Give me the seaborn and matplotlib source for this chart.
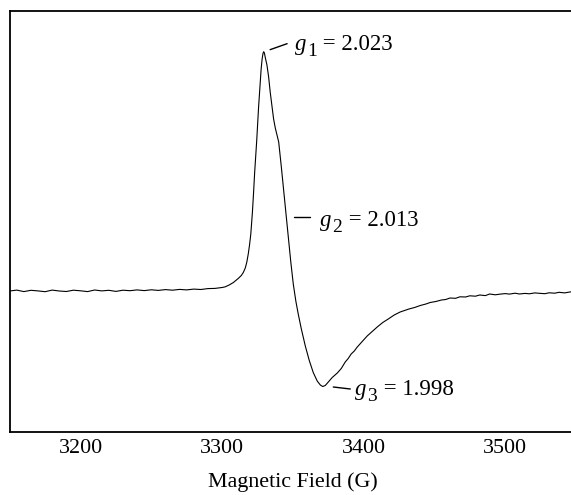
import numpy as np
import pandas as pd
import matplotlib
matplotlib.use("Agg")
import matplotlib.pyplot as plt
from matplotlib.lines import Line2D
from matplotlib.transforms import IdentityTransform
import seaborn as sns

# ---- data ----
field = [3150, 3155, 3160, 3165, 3170, 3175, 3180, 3185, 3190, 3195,
         3200, 3205, 3210, 3215, 3220, 3225, 3230, 3235, 3240, 3245,
         3250, 3255, 3260, 3265, 3270, 3275, 3280, 3285, 3290, 3295,
         3300, 3302.3, 3305, 3308, 3311.4, 3313.6, 3315, 3316.4, 3317.5, 3318.5,
         3319.4, 3320.3, 3321.4, 3322.2, 3323, 3324.5, 3325.8, 3326.8, 3327.6, 3328.3,
         3328.9, 3329.4, 3329.9, 3330.6, 3331.7, 3332.9, 3334, 3335.3, 3336.4, 3337.6,
         3338.8, 3340, 3341.8, 3343.5, 3345.3, 3347, 3348.55, 3350.3, 3352.1, 3353.8,
         3356.0, 3358.8, 3361.6, 3364.4, 3367.2, 3369.4, 3371.1, 3372.9, 3375.0, 3377.8,
         3381.4, 3384.2, 3387.0, 3389.1, 3391.2, 3393.4, 3395.5, 3399.0, 3402.5, 3406.0,
         3409.6, 3413.5, 3417.4, 3421.6, 3425.8, 3429, 3432, 3436, 3440, 3444,
         3447, 3451, 3455, 3458, 3461, 3465, 3468, 3472, 3475, 3479,
         3482, 3486, 3489, 3493, 3496, 3500, 3503, 3507, 3510, 3514,
         3517, 3521, 3524, 3528, 3531, 3535, 3538, 3542, 3546, 3550]
intensity = [0.0, 0.9, -0.6, 0.7, 0.1, -0.7, 0.9, 0.0, -0.5, 0.8,
             0.2, -0.6, 1.0, 0.1, 0.7, -0.4, 0.8, 0.3, 1.1, 0.4,
             1.2, 0.6, 1.4, 0.8, 1.6, 1.1, 1.9, 1.5, 2.4, 2.6,
             3.5, 4.2, 6.0, 8.5, 12.5, 15.5, 18.5, 23.0, 29.0, 37.0,
             46.0, 57.0, 78.0, 97.0, 118.0, 151.0, 184.0, 206.0, 222.0, 232.0,
             237.5, 239.3, 238.0, 233.0, 226.0, 214.0, 199.0, 184.0, 172.0, 163.0,
             156.0, 149.0, 125.0, 101.0, 76.0, 51.0, 29.0, 7.0, -10.0, -23.0,
             -38.0, -55.0, -69.5, -81.5, -90.0, -94.0, -95.5, -94.5, -91.0, -86.5,
             -82.0, -77.5, -71.0, -67.5, -63.0, -60.0, -56.0, -50.5, -45.0, -40.5,
             -36.0, -31.5, -28.0, -24.0, -21.0, -19.5, -18.0, -16.5, -14.5, -13.0,
             -11.5, -10.5, -9.0, -8.5, -7.0, -7.3, -5.8, -6.0, -4.8, -5.2,
             -4.0, -4.6, -3.0, -3.8, -3.2, -2.6, -3.1, -2.2, -3.0, -2.4,
             -2.8, -1.9, -2.3, -2.7, -1.8, -2.2, -1.3, -1.9, -0.9, -1.2]

g_labels = ["1", "2", "3"]
g_values = [2.023, 2.013, 1.998]
h_nu_over_muB = 6735.0  # resonance field (G) = h*nu / (g * muB)

xticks_major = [3200, 3300, 3400, 3500]
xticks_minor = [3250, 3350, 3450]

# ---- style ----
sns.set_theme(style="white")
plt.rcParams["font.family"] = ["Liberation Serif", "DejaVu Serif"]

W, H = 571, 495
fig = plt.figure(figsize=(W / 100, H / 100), dpi=100)
ax = fig.add_axes([9.7 / W, 63 / H, 566.3 / W, 421.5 / H])

df = pd.DataFrame({"field": field, "intensity": intensity})
sns.lineplot(data=df, x="field", y="intensity", ax=ax, color="black",
             linewidth=0.8, estimator=None, sort=False)

ax.set_xlim(3150, 3550)
ax.set_ylim(-141, 280.5)

ax.set_xticks(xticks_major)
ax.set_xticks(xticks_minor, minor=True)
ax.set_yticks([])
ax.tick_params(axis="x", which="major", direction="in", length=7.2, width=1.0,
               color="black", pad=5, labelsize=15.8, labelcolor="black")
ax.tick_params(axis="x", which="minor", direction="in", length=3.6, width=1.0,
               color="black")
ax.set_xlabel("Magnetic Field (G)", fontsize=15.8, color="black", labelpad=10.5)
ax.set_ylabel("")

for side in ["top", "left", "bottom"]:
    ax.spines[side].set_visible(True)
    ax.spines[side].set_color("black")
    ax.spines[side].set_linewidth(1.3)
ax.spines["right"].set_visible(False)

# ---- g-value annotations (offsets in pixels from the resonance point) ----
offsets = [
    ((6.7, 2.7), (23.7, 8.7), (31.7, 2.4)),
    ((7.4, 4.4), (23.4, 4.4), (33.4, -4.3)),
    ((10.9, -0.7), (27.9, -2.7), (32.9, -8.7)),
]
fig.canvas.draw()
renderer = fig.canvas.get_renderer()
ident = IdentityTransform()
fs_main, fs_sub = 16.5, 14.0
for lab, g, (ls, le, to) in zip(g_labels, g_values, offsets):
    bx = h_nu_over_muB / g
    by = float(np.interp(bx, field, intensity))
    px, py = ax.transData.transform((bx, by))
    fig.add_artist(Line2D([px + ls[0], px + le[0]], [py + ls[1], py + le[1]],
                          transform=ident, color="black", lw=1.0))
    x0, yb = px + to[0], py + to[1]
    t1 = fig.text(x0, yb, "g", transform=ident, fontsize=fs_main,
                  style="italic", va="baseline", ha="left", color="black")
    w1 = t1.get_window_extent(renderer).width
    t2 = fig.text(x0 + w1 + 0.5, yb - 6.0, lab, transform=ident,
                  fontsize=fs_sub, va="baseline", ha="left", color="black")
    w2 = t2.get_window_extent(renderer).width
    fig.text(x0 + w1 + w2 + 1.0, yb, f" = {g:.3f}", transform=ident,
             fontsize=fs_main, va="baseline", ha="left", color="black")

fig.savefig("out.png", dpi=100)
